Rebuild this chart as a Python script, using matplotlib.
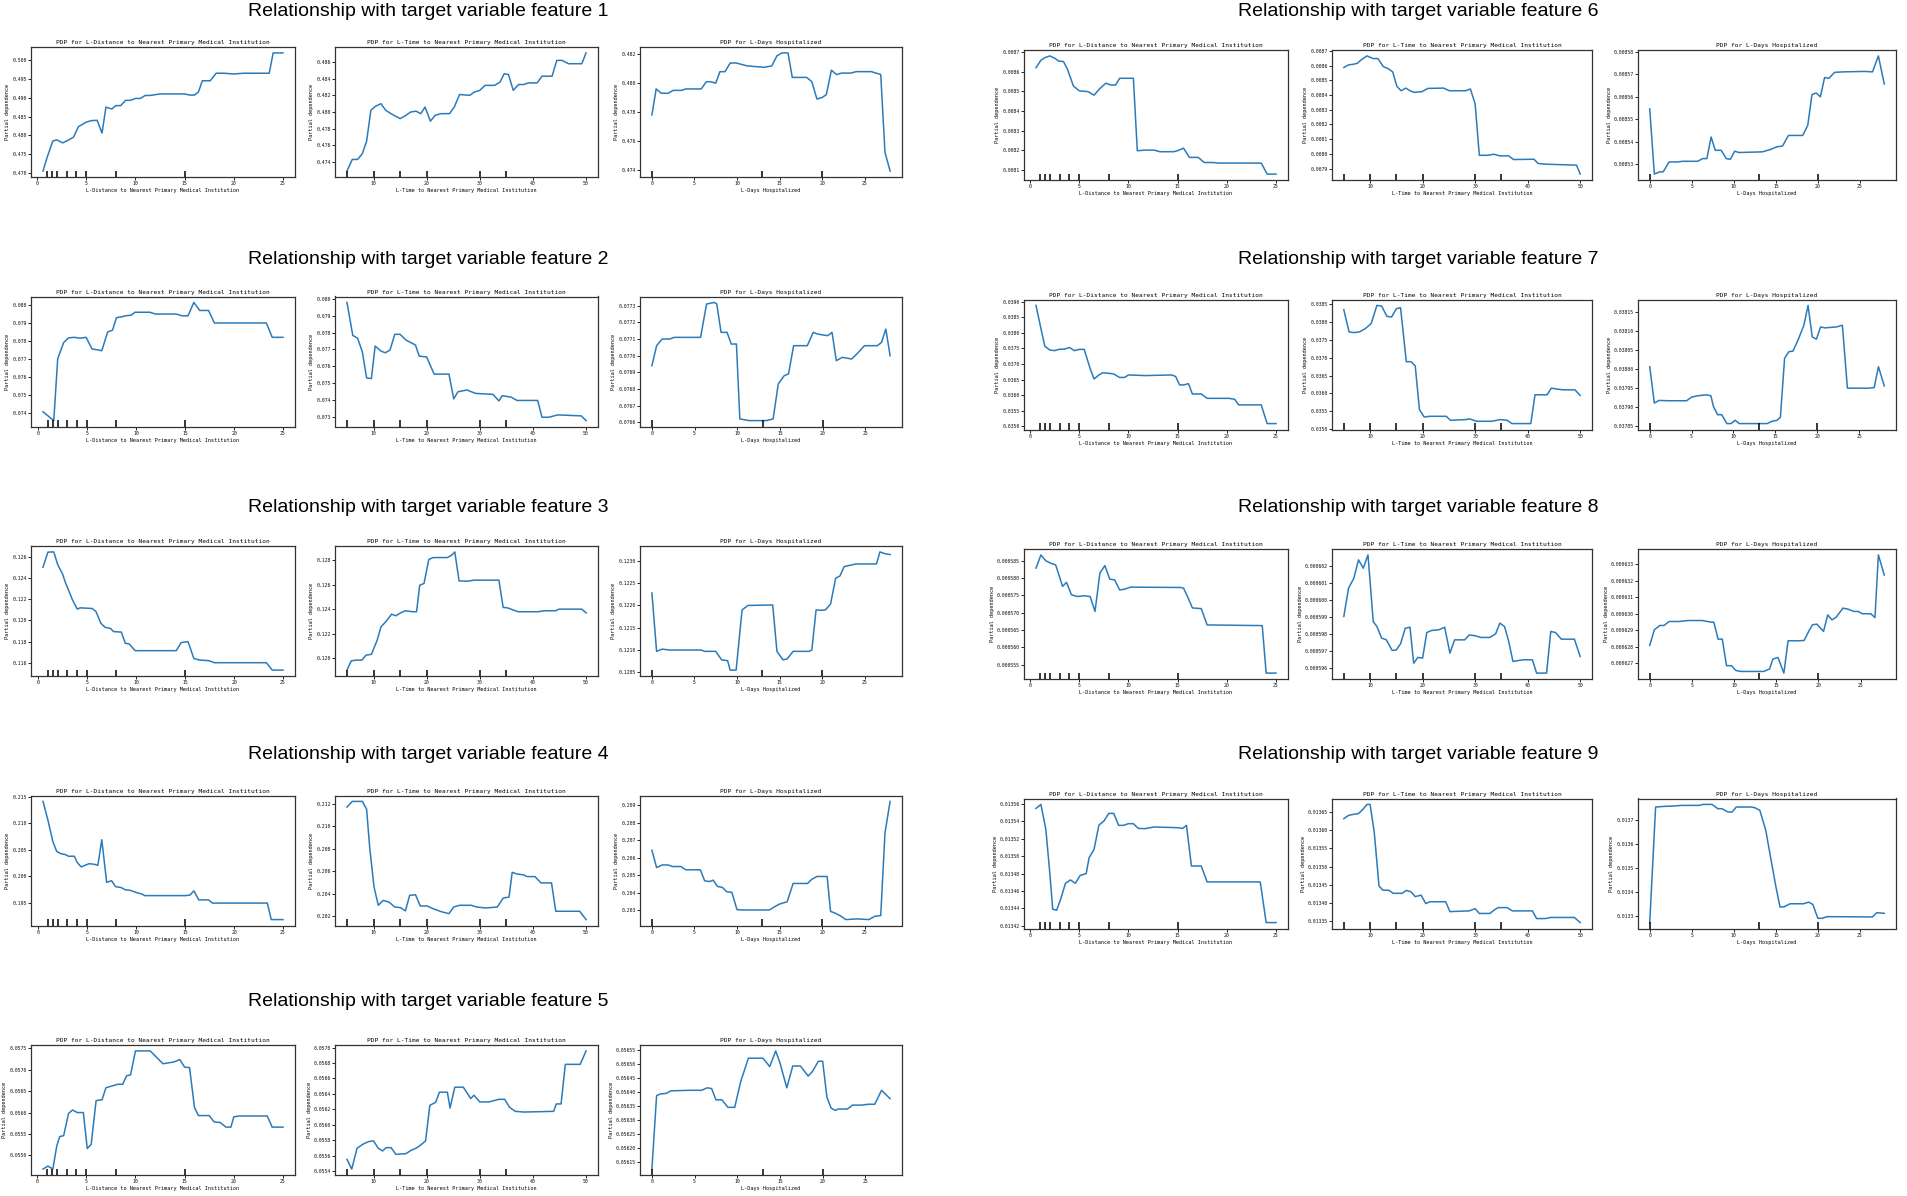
import matplotlib
matplotlib.use("Agg")
import matplotlib.pyplot as plt
from matplotlib.ticker import MultipleLocator, ScalarFormatter

# (grid value, partial dependence)
f1_dist = [(0.6, 0.4705), (1.0, 0.4740), (1.6, 0.4785), (2.0, 0.4788), (2.6, 0.4780), (3.0, 0.4785),
           (3.7, 0.4795), (4.2, 0.4823), (5.0, 0.4835), (5.5, 0.4839), (6.1, 0.4840), (6.6, 0.4806),
           (7.0, 0.4875), (7.6, 0.4870), (8.0, 0.4879), (8.5, 0.4879), (9.0, 0.4893), (9.5, 0.4893),
           (10.0, 0.4898), (10.5, 0.4898), (11.0, 0.4906), (11.5, 0.4906), (12.5, 0.4910), (15.0, 0.4910),
           (15.5, 0.4907), (16.0, 0.4907), (16.4, 0.4915), (16.8, 0.4945), (17.6, 0.4945), (18.2, 0.4965),
           (19.0, 0.4965), (20.0, 0.4963), (21.0, 0.4965), (23.6, 0.4965), (24.0, 0.5019), (25.0, 0.5019)]
f1_time = [(5.0, 0.4729), (6.0, 0.4743), (7.0, 0.4743), (7.9, 0.4750), (8.7, 0.4765), (9.5, 0.4802),
           (10.4, 0.4807), (11.4, 0.4810), (12.3, 0.4802), (13.3, 0.4798), (15.0, 0.4792), (16.1, 0.4796),
           (17.0, 0.4800), (18.0, 0.4801), (18.9, 0.4798), (19.7, 0.4806), (20.7, 0.4789), (21.6, 0.4796),
           (22.7, 0.4798), (24.3, 0.4798), (25.2, 0.4806), (26.2, 0.4821), (28.1, 0.4820), (29.0, 0.4824),
           (30.0, 0.4826), (31.0, 0.4832), (32.8, 0.4832), (33.8, 0.4836), (34.6, 0.4846), (35.4, 0.4845),
           (36.3, 0.4826), (37.3, 0.4833), (38.2, 0.4833), (39.2, 0.4835), (40.8, 0.4835), (41.7, 0.4843),
           (43.6, 0.4843), (44.5, 0.4862), (45.5, 0.4862), (46.7, 0.4858), (49.2, 0.4858), (50.0, 0.4871)]
f1_days = [(0.0, 0.4778), (0.5, 0.4796), (1.1, 0.4793), (1.9, 0.4793), (2.5, 0.4795), (3.5, 0.4795),
           (4.0, 0.4796), (5.8, 0.4796), (6.4, 0.4801), (6.9, 0.4801), (7.5, 0.4800), (8.0, 0.4808),
           (8.6, 0.4808), (9.2, 0.4814), (9.9, 0.4814), (11.2, 0.4812), (13.2, 0.4811), (14.1, 0.4812),
           (14.7, 0.4819), (15.3, 0.4821), (16.0, 0.4821), (16.5, 0.4804), (18.2, 0.4804), (18.8, 0.4801),
           (19.4, 0.4789), (20.0, 0.4790), (20.5, 0.4792), (21.1, 0.4809), (21.7, 0.4806), (22.3, 0.4807),
           (23.4, 0.4807), (24.0, 0.4808), (25.8, 0.4808), (26.9, 0.4806), (27.4, 0.4752), (28.0, 0.4739)]

f2_dist = [(0.5, 0.07404), (1.6, 0.07355), (2.0, 0.07700), (2.6, 0.07790), (3.1, 0.07817), (3.7, 0.07820),
           (4.3, 0.07815), (4.9, 0.07820), (5.5, 0.07755), (6.1, 0.07750), (6.5, 0.07745), (7.1, 0.07850),
           (7.6, 0.07860), (8.0, 0.07930), (8.6, 0.07935), (8.9, 0.07940), (9.5, 0.07944), (9.9, 0.07960),
           (11.4, 0.07960), (12.0, 0.07950), (14.1, 0.07950), (14.7, 0.07940), (15.3, 0.07940), (15.9, 0.08015),
           (16.5, 0.07970), (17.4, 0.07970), (18.0, 0.07900), (23.3, 0.07900), (23.9, 0.07820), (25.0, 0.07820)]
f2_time = [(5.0, 0.07980), (6.1, 0.07783), (7.0, 0.07767), (7.9, 0.07685), (8.7, 0.07530), (9.6, 0.07526),
           (10.3, 0.07720), (11.4, 0.07690), (12.2, 0.07680), (13.1, 0.07696), (14.0, 0.07790), (15.0, 0.07790),
           (16.1, 0.07756), (17.9, 0.07726), (18.6, 0.07660), (20.0, 0.07655), (21.4, 0.07553), (24.2, 0.07553),
           (25.1, 0.07405), (25.9, 0.07448), (27.6, 0.07458), (29.2, 0.07438), (32.5, 0.07432), (33.6, 0.07393),
           (34.2, 0.07424), (35.9, 0.07416), (37.0, 0.07396), (40.9, 0.07396), (41.7, 0.07296), (43.0, 0.07296),
           (44.7, 0.07310), (49.1, 0.07304), (50.0, 0.07276)]
f2_days = [(0.0, 0.07694), (0.55, 0.07706), (1.2, 0.07710), (2.1, 0.07710), (2.6, 0.07711), (5.7, 0.07711),
           (6.4, 0.07731), (7.3, 0.07732), (7.6, 0.07731), (8.1, 0.07714), (8.8, 0.07714), (9.3, 0.07707),
           (9.9, 0.07707), (10.3, 0.07662), (11.4, 0.07661), (13.4, 0.07661), (14.2, 0.07662), (14.8, 0.07683),
           (15.5, 0.07688), (16.0, 0.07689), (16.6, 0.07706), (18.2, 0.07706), (18.9, 0.07714), (19.4, 0.07713),
           (20.6, 0.07712), (21.1, 0.07714), (21.6, 0.07697), (22.3, 0.07699), (23.4, 0.07698), (24.0, 0.07701),
           (24.9, 0.07706), (26.4, 0.07706), (26.9, 0.07708), (27.4, 0.07716), (27.9, 0.07700)]

f3_dist = [(0.5, 0.12505), (1.0, 0.12648), (1.6, 0.12650), (2.0, 0.12530), (2.5, 0.12440), (2.8, 0.12356),
           (3.1, 0.12290), (3.5, 0.12197), (4.0, 0.12108), (4.3, 0.12120), (5.5, 0.12114), (5.9, 0.12086),
           (6.4, 0.11975), (6.8, 0.11937), (7.4, 0.11924), (7.7, 0.11895), (8.5, 0.11890), (8.9, 0.11784),
           (9.3, 0.11778), (9.9, 0.11714), (14.1, 0.11714), (14.6, 0.11790), (15.3, 0.11800), (15.9, 0.11640),
           (16.5, 0.11625), (17.4, 0.11620), (18.0, 0.11600), (23.3, 0.11600), (23.9, 0.11530), (25.0, 0.11530)]
f3_time = [(5.0, 0.11905), (5.8, 0.11980), (6.7, 0.11986), (7.8, 0.11986), (8.6, 0.12027), (9.6, 0.12033),
           (10.7, 0.12150), (11.4, 0.12257), (12.3, 0.12298), (13.4, 0.12360), (14.2, 0.12347), (15.1, 0.12371),
           (16.0, 0.12388), (17.3, 0.12380), (18.1, 0.12380), (18.7, 0.12596), (19.5, 0.12610), (20.4, 0.12805),
           (21.2, 0.12821), (23.9, 0.12821), (24.7, 0.12840), (25.3, 0.12867), (26.1, 0.12631), (27.8, 0.12629),
           (28.9, 0.12637), (33.6, 0.12637), (34.4, 0.12415), (35.2, 0.12412), (37.2, 0.12380), (41.0, 0.12380),
           (42.1, 0.12388), (44.3, 0.12388), (44.9, 0.12401), (49.2, 0.12401), (50.0, 0.12371)]
f3_days = [(0.0, 0.12228), (0.55, 0.12097), (1.2, 0.12102), (2.1, 0.12100), (5.8, 0.12100), (6.2, 0.12097),
           (7.5, 0.12097), (8.2, 0.12078), (8.9, 0.12076), (9.2, 0.12055), (9.9, 0.12055), (10.6, 0.12190),
           (11.3, 0.12200), (14.2, 0.12201), (14.7, 0.12097), (15.4, 0.12078), (15.9, 0.12080), (16.6, 0.12097),
           (18.5, 0.12097), (18.8, 0.12100), (19.3, 0.12190), (19.9, 0.12189), (20.4, 0.12190), (21.0, 0.12203),
           (21.6, 0.12261), (22.1, 0.12266), (22.6, 0.12287), (23.3, 0.12290), (24.0, 0.12293), (26.4, 0.12293),
           (26.8, 0.12320), (27.4, 0.12316), (28.0, 0.12314)]

f4_dist = [(0.5, 0.2141), (1.0, 0.2106), (1.5, 0.2066), (1.9, 0.2047), (2.3, 0.2043), (2.8, 0.2041),
           (3.1, 0.2038), (3.7, 0.2038), (4.0, 0.2026), (4.4, 0.2018), (4.8, 0.2021), (5.2, 0.2024),
           (5.7, 0.2023), (6.1, 0.2021), (6.5, 0.2069), (7.0, 0.1989), (7.5, 0.1992), (7.9, 0.1981),
           (8.5, 0.1979), (8.9, 0.1975), (9.4, 0.1974), (10.0, 0.1970), (10.6, 0.1967), (10.9, 0.1964),
           (15.0, 0.1964), (15.5, 0.1965), (15.9, 0.1973), (16.4, 0.1956), (17.4, 0.1956), (17.8, 0.1950),
           (23.4, 0.1950), (23.8, 0.1919), (25.0, 0.1919)]
f4_time = [(5.0, 0.2117), (6.0, 0.2122), (7.9, 0.2122), (8.7, 0.2115), (9.3, 0.2080), (10.1, 0.20458),
           (10.9, 0.20297), (11.8, 0.20340), (12.9, 0.20326), (14.0, 0.20282), (15.1, 0.20276), (16.0, 0.20247),
           (16.8, 0.20385), (17.9, 0.20391), (18.8, 0.20291), (20.1, 0.20291), (21.2, 0.20267), (22.9, 0.20238),
           (24.2, 0.20223), (25.1, 0.20282), (26.2, 0.20297), (28.4, 0.20297), (29.4, 0.20282), (31.1, 0.20273),
           (33.3, 0.20282), (34.4, 0.20361), (35.5, 0.20370), (36.1, 0.20590), (37.0, 0.20575), (38.3, 0.20567),
           (38.9, 0.20552), (40.4, 0.20552), (41.5, 0.20496), (43.5, 0.20496), (44.3, 0.20244), (48.8, 0.20244),
           (50.0, 0.20170)]
f4_days = [(0.0, 0.20642), (0.55, 0.20543), (1.2, 0.20558), (1.9, 0.20558), (2.4, 0.20549), (3.4, 0.20549),
           (4.0, 0.20530), (5.7, 0.20530), (6.2, 0.20467), (6.8, 0.20463), (7.2, 0.20471), (7.7, 0.20435),
           (8.3, 0.20429), (8.8, 0.20404), (9.4, 0.20401), (10.0, 0.20302), (10.7, 0.20300), (13.8, 0.20300),
           (14.3, 0.20315), (15.0, 0.20334), (15.9, 0.20347), (16.6, 0.20452), (18.3, 0.20452), (18.8, 0.20476),
           (19.4, 0.20492), (20.6, 0.20492), (21.0, 0.20292), (21.5, 0.20283), (22.1, 0.20268), (22.8, 0.20245),
           (24.1, 0.20249), (25.5, 0.20245), (26.2, 0.20264), (26.9, 0.20268), (27.4, 0.20742), (28.0, 0.20922)]

f5_dist = [(0.6, 0.05468), (1.1, 0.05475), (1.6, 0.05468), (2.0, 0.05522), (2.3, 0.05544), (2.7, 0.05546),
           (3.2, 0.05598), (3.6, 0.05606), (4.1, 0.05600), (4.7, 0.05600), (5.1, 0.05516), (5.5, 0.05526),
           (6.0, 0.05628), (6.6, 0.05630), (7.0, 0.05658), (7.6, 0.05662), (8.2, 0.05666), (8.7, 0.05666),
           (9.1, 0.05686), (9.5, 0.05688), (10.0, 0.05744), (11.5, 0.05744), (12.1, 0.05730), (12.8, 0.05714),
           (13.3, 0.05716), (13.9, 0.05718), (14.5, 0.05724), (15.0, 0.05706), (15.5, 0.05705), (16.0, 0.05612),
           (16.4, 0.05593), (17.5, 0.05593), (18.0, 0.05578), (18.6, 0.05577), (19.2, 0.05566), (19.7, 0.05566),
           (20.0, 0.05590), (20.5, 0.05592), (23.4, 0.05592), (23.9, 0.05566), (25.0, 0.05566)]
f5_time = [(5.0, 0.055552), (5.9, 0.055426), (6.9, 0.055696), (8.0, 0.055748), (9.1, 0.055783), (10.0, 0.055791),
           (10.9, 0.055696), (11.7, 0.055661), (12.4, 0.055704), (13.3, 0.055704), (14.2, 0.055617), (16.1, 0.055626),
           (17.2, 0.055674), (18.0, 0.055696), (18.9, 0.055739), (19.8, 0.055791), (20.6, 0.056252), (21.7, 0.056291),
           (22.4, 0.056422), (23.9, 0.056422), (24.4, 0.056217), (25.3, 0.056487), (26.9, 0.056487), (28.3, 0.056339),
           (28.9, 0.056383), (30.0, 0.056296), (31.7, 0.056296), (33.6, 0.056330), (34.7, 0.056330), (35.6, 0.056226),
           (36.7, 0.056174), (38.3, 0.056165), (43.9, 0.056174), (44.4, 0.056270), (45.3, 0.056270), (46.1, 0.056783),
           (48.9, 0.056783), (50.0, 0.056957)]
f5_days = [(0.0, 0.056125), (0.55, 0.056388), (1.0, 0.056394), (1.7, 0.056396), (2.2, 0.056405), (4.4, 0.056407),
           (5.8, 0.056407), (6.5, 0.056416), (7.0, 0.056413), (7.5, 0.056373), (8.2, 0.056373), (8.9, 0.056346),
           (9.7, 0.056346), (10.4, 0.056438), (11.3, 0.056522), (13.0, 0.056522), (13.8, 0.056492), (14.5, 0.056548),
           (15.0, 0.056505), (15.8, 0.056416), (16.5, 0.056494), (17.4, 0.056494), (18.3, 0.056458), (18.8, 0.056474),
           (19.5, 0.056511), (20.0, 0.056511), (20.5, 0.056382), (21.0, 0.056343), (21.5, 0.056335), (21.8, 0.056340),
           (22.9, 0.056340), (23.5, 0.056354), (24.6, 0.056354), (25.3, 0.056357), (26.1, 0.056357), (26.9, 0.056407),
           (27.9, 0.056377)]

f6_dist = [(0.6, 0.008620), (1.1, 0.008658), (1.5, 0.008671), (2.0, 0.008680), (2.5, 0.008668), (2.9, 0.008654),
           (3.4, 0.008651), (3.8, 0.008612), (4.4, 0.008527), (5.0, 0.008502), (5.9, 0.008498), (6.5, 0.008480),
           (7.1, 0.008514), (7.7, 0.008541), (8.2, 0.008532), (8.7, 0.008532), (9.1, 0.008566), (10.5, 0.008566),
           (10.9, 0.008197), (11.7, 0.008200), (12.6, 0.008200), (13.2, 0.008192), (14.6, 0.008192), (15.0, 0.008197),
           (15.6, 0.008210), (16.2, 0.008163), (17.1, 0.008163), (17.7, 0.008137), (18.6, 0.008137), (19.2, 0.008134),
           (23.5, 0.008134), (24.1, 0.008078), (25.0, 0.008078)]
f6_time = [(5.0, 0.008587), (5.9, 0.008605), (6.8, 0.008609), (7.6, 0.008616), (8.3, 0.008639), (9.4, 0.008666),
           (10.6, 0.008648), (11.5, 0.008648), (12.5, 0.008594), (13.4, 0.008580), (14.3, 0.008558), (15.1, 0.008459),
           (15.9, 0.008429), (16.8, 0.008447), (17.6, 0.008429), (18.4, 0.008418), (19.9, 0.008423), (21.0, 0.008445),
           (24.0, 0.008447), (25.1, 0.008429), (28.2, 0.008429), (29.1, 0.008441), (30.0, 0.008339), (30.8, 0.007990),
           (32.4, 0.007990), (33.6, 0.007997), (34.7, 0.007986), (36.4, 0.007986), (37.3, 0.007961), (41.2, 0.007963),
           (42.0, 0.007934), (43.7, 0.007929), (49.3, 0.007923), (50.0, 0.007862)]
f6_days = [(0.0, 0.0085546), (0.55, 0.0085256), (1.2, 0.0085266), (1.6, 0.0085266), (2.3, 0.0085310),
           (3.3, 0.0085310), (3.9, 0.0085313), (5.7, 0.0085313), (6.3, 0.0085325), (6.8, 0.0085325),
           (7.3, 0.0085421), (7.8, 0.0085362), (8.5, 0.0085362), (9.1, 0.0085325), (9.6, 0.0085322),
           (10.1, 0.0085358), (10.6, 0.0085352), (13.4, 0.0085355), (14.4, 0.0085366), (15.1, 0.0085377),
           (15.8, 0.0085381), (16.5, 0.0085428), (18.2, 0.0085428), (18.8, 0.0085473), (19.3, 0.0085610),
           (19.8, 0.0085617), (20.3, 0.0085600), (20.8, 0.0085686), (21.3, 0.0085682), (22.0, 0.0085709),
           (23.1, 0.0085711), (25.5, 0.0085713), (26.5, 0.0085711), (27.2, 0.0085782), (27.9, 0.0085657)]

f7_dist = [(0.6, 0.03888), (1.1, 0.03814), (1.5, 0.03757), (2.0, 0.03745), (2.5, 0.03743), (2.9, 0.03747),
           (3.5, 0.03748), (4.0, 0.03753), (4.5, 0.03743), (5.0, 0.03747), (5.5, 0.03747), (6.1, 0.03686),
           (6.5, 0.03652), (7.0, 0.03665), (7.4, 0.03672), (8.1, 0.03670), (8.5, 0.03668), (9.1, 0.03657),
           (9.6, 0.03657), (10.0, 0.03665), (11.7, 0.03663), (14.4, 0.03665), (14.8, 0.03660), (15.2, 0.03633),
           (15.6, 0.03633), (16.1, 0.03637), (16.5, 0.03604), (17.4, 0.03604), (18.0, 0.03590), (20.2, 0.03590),
           (20.8, 0.03587), (21.2, 0.03569), (23.5, 0.03569), (24.1, 0.03509), (25.0, 0.03509)]
f7_time = [(5.0, 0.038352), (6.0, 0.037728), (6.9, 0.037709), (8.0, 0.037728), (9.1, 0.037821), (10.2, 0.037961),
           (11.3, 0.038473), (12.2, 0.038454), (13.2, 0.038166), (14.1, 0.038147), (15.0, 0.038380), (15.8, 0.038408),
           (16.9, 0.036890), (17.8, 0.036890), (18.6, 0.036769), (19.4, 0.035540), (20.3, 0.035335), (21.4, 0.035354),
           (24.5, 0.035354), (25.3, 0.035242), (28.1, 0.035261), (29.0, 0.035279), (30.3, 0.035214), (33.1, 0.035214),
           (34.8, 0.035261), (36.1, 0.035242), (37.0, 0.035149), (40.6, 0.035149), (41.4, 0.035959), (43.7, 0.035959),
           (44.5, 0.036145), (45.7, 0.036117), (46.8, 0.036099), (49.0, 0.036099), (50.0, 0.035940)]
f7_days = [(0.0, 0.0380065), (0.55, 0.0379109), (1.1, 0.0379178), (2.3, 0.0379170), (4.4, 0.0379170),
           (5.0, 0.0379265), (5.7, 0.0379300), (6.8, 0.0379326), (7.3, 0.0379300), (7.6, 0.0379022),
           (8.1, 0.0378804), (8.6, 0.0378804), (9.2, 0.0378570), (9.7, 0.0378570), (10.2, 0.0378657),
           (10.7, 0.0378570), (14.0, 0.0378570), (14.6, 0.0378630), (15.2, 0.0378657), (15.6, 0.0378735),
           (16.1, 0.0380283), (16.6, 0.0380457), (17.1, 0.0380474), (17.7, 0.0380761), (18.4, 0.0381152),
           (18.9, 0.0381674), (19.4, 0.0380848), (19.9, 0.0380787), (20.4, 0.0381109), (20.9, 0.0381083),
           (22.3, 0.0381109), (23.0, 0.0381152), (23.6, 0.0379500), (26.1, 0.0379500), (26.8, 0.0379517),
           (27.3, 0.0380065), (28.0, 0.0379561)]

f8_dist = [(0.6, 0.0005829), (1.1, 0.0005867), (1.6, 0.0005850), (2.1, 0.0005843), (2.6, 0.0005838),
           (3.0, 0.0005803), (3.3, 0.0005776), (3.7, 0.0005788), (4.2, 0.0005752), (4.8, 0.0005747),
           (5.5, 0.0005749), (6.1, 0.0005747), (6.6, 0.0005704), (7.1, 0.0005815), (7.6, 0.0005836),
           (8.1, 0.0005797), (8.6, 0.0005795), (9.1, 0.0005766), (9.6, 0.0005768), (10.2, 0.0005774),
           (15.3, 0.0005773), (15.6, 0.0005771), (16.0, 0.0005747), (16.5, 0.0005714), (17.4, 0.0005712),
           (18.0, 0.0005665), (23.6, 0.0005663), (24.0, 0.0005526), (25.0, 0.0005526)]
f8_time = [(5.0, 0.00059903), (5.9, 0.00060069), (6.9, 0.00060127), (7.8, 0.00060235), (8.7, 0.00060186),
           (9.6, 0.00060264), (10.6, 0.00059873), (11.3, 0.00059844), (12.2, 0.00059776), (13.1, 0.00059766),
           (14.2, 0.00059704), (15.0, 0.00059707), (15.8, 0.00059743), (16.7, 0.00059834), (17.6, 0.00059840),
           (18.3, 0.00059629), (19.1, 0.00059663), (20.0, 0.00059659), (20.8, 0.00059809), (21.7, 0.00059821),
           (23.1, 0.00059825), (24.2, 0.00059840), (25.2, 0.00059688), (26.1, 0.00059766), (28.0, 0.00059766),
           (28.9, 0.00059795), (30.0, 0.00059790), (31.1, 0.00059780), (32.8, 0.00059780), (33.9, 0.00059801),
           (34.7, 0.00059864), (35.6, 0.00059844), (36.4, 0.00059756), (37.2, 0.00059639), (38.3, 0.00059645),
           (39.2, 0.00059649), (40.9, 0.00059649), (41.7, 0.00059571), (43.6, 0.00059571), (44.4, 0.00059815),
           (45.3, 0.00059809), (46.4, 0.00059770), (48.9, 0.00059770), (50.0, 0.00059668)]
f8_days = [(0.0, 0.00062808), (0.55, 0.00062903), (1.2, 0.00062929), (1.7, 0.00062929), (2.3, 0.00062953),
           (3.5, 0.00062953), (4.5, 0.00062959), (6.2, 0.00062959), (7.3, 0.00062949), (7.6, 0.00062949),
           (8.1, 0.00062846), (8.6, 0.00062846), (9.1, 0.00062685), (9.7, 0.00062685), (10.2, 0.00062656),
           (10.8, 0.00062650), (13.5, 0.00062650), (14.2, 0.00062665), (14.6, 0.00062725), (15.2, 0.00062735),
           (15.9, 0.00062640), (16.4, 0.00062836), (17.6, 0.00062836), (18.3, 0.00062838), (18.9, 0.00062899),
           (19.3, 0.00062933), (19.8, 0.00062937), (20.6, 0.00062893), (21.1, 0.00062993), (21.6, 0.00062963),
           (22.1, 0.00062979), (22.9, 0.00063034), (23.5, 0.00063028), (24.2, 0.00063014), (24.7, 0.00063014),
           (25.2, 0.00063000), (26.2, 0.00063000), (26.7, 0.00062977), (27.1, 0.00063357), (27.8, 0.00063235)]

f9_dist = [(0.6, 0.0135547), (1.1, 0.0135593), (1.6, 0.0135307), (2.0, 0.0134811), (2.3, 0.0134391),
           (2.7, 0.0134379), (3.1, 0.0134505), (3.6, 0.0134689), (4.1, 0.0134727), (4.6, 0.0134689),
           (5.1, 0.0134780), (5.7, 0.0134799), (6.0, 0.0134982), (6.5, 0.0135078), (7.0, 0.0135356),
           (7.5, 0.0135402), (8.0, 0.0135490), (8.5, 0.0135490), (9.0, 0.0135353), (9.5, 0.0135353),
           (10.0, 0.0135372), (10.5, 0.0135372), (11.0, 0.0135318), (11.7, 0.0135315), (12.6, 0.0135334),
           (15.0, 0.0135326), (15.5, 0.0135318), (15.9, 0.0135353), (16.4, 0.0134887), (17.4, 0.0134887),
           (18.0, 0.0134704), (23.4, 0.0134704), (24.0, 0.0134238), (25.0, 0.0134238)]
f9_time = [(5.0, 0.013631), (5.9, 0.013640), (6.9, 0.013643), (7.8, 0.013645), (8.6, 0.013656), (9.4, 0.013670),
           (10.0, 0.013670), (10.8, 0.013593), (11.7, 0.013447), (12.4, 0.013436), (13.6, 0.013435), (14.4, 0.013427),
           (16.1, 0.013427), (16.9, 0.013435), (17.8, 0.013431), (18.6, 0.013418), (19.7, 0.013422), (20.6, 0.013399),
           (21.4, 0.013404), (24.4, 0.013404), (25.2, 0.013377), (28.9, 0.013379), (30.0, 0.013385), (30.8, 0.013372),
           (32.8, 0.013372), (33.7, 0.013382), (34.4, 0.013388), (36.1, 0.013388), (37.1, 0.013379), (40.9, 0.013379),
           (41.7, 0.013358), (43.3, 0.013358), (44.4, 0.013361), (48.9, 0.013361), (50.0, 0.013347)]
f9_days = [(0.0, 0.0132726), (0.7, 0.0137521), (1.7, 0.0137548), (2.8, 0.0137562), (3.8, 0.0137589),
           (5.9, 0.0137589), (6.3, 0.0137630), (7.4, 0.0137630), (8.1, 0.0137452), (8.6, 0.0137452),
           (9.3, 0.0137315), (9.8, 0.0137315), (10.3, 0.0137521), (12.1, 0.0137521), (12.5, 0.0137493),
           (13.1, 0.0137384), (13.8, 0.0136562), (14.5, 0.0135192), (15.0, 0.0134233), (15.5, 0.0133370),
           (16.0, 0.0133384), (16.7, 0.0133507), (18.3, 0.0133507), (18.9, 0.0133575), (19.4, 0.0133479),
           (20.0, 0.0132904), (20.5, 0.0132904), (21.1, 0.0132973), (26.5, 0.0132960), (27.0, 0.0133137),
           (27.9, 0.0133110)]

# rug marks (deciles of each feature)
dist_deciles = [1, 1.5, 2, 3, 4, 5, 8, 15]
time_deciles = [5, 10, 15, 20, 30, 35]
days_deciles = [0, 13, 20]

feature_names = ["L-Distance to Nearest Primary Medical Institution",
                 "L-Time to Nearest Primary Medical Institution",
                 "L-Days Hospitalized"]

all_curves = [
    (f1_dist, f1_time, f1_days), (f2_dist, f2_time, f2_days), (f3_dist, f3_time, f3_days),
    (f4_dist, f4_time, f4_days), (f5_dist, f5_time, f5_days), (f6_dist, f6_time, f6_days),
    (f7_dist, f7_time, f7_days), (f8_dist, f8_time, f8_days), (f9_dist, f9_time, f9_days),
]

# y tick spacing per panel
y_steps = [
    (0.005, 0.002, 0.002), (0.001, 0.001, 0.0001), (0.002, 0.002, 0.0005),
    (0.005, 0.002, 0.001), (0.0005, 0.0002, 0.00005), (0.0001, 0.0001, 0.00001),
    (0.0005, 0.0005, 0.00005), (0.000005, 0.000001, 0.000001), (0.00002, 0.00005, 0.0001),
]
x_steps = [5, 10, 5]
deciles = [dist_deciles, time_deciles, days_deciles]

W, H = 1908, 1196
plt.rcParams['font.family'] = ['DejaVu Sans Mono']

fig = plt.figure(figsize=(W / 100, H / 100), dpi=100)

# panel x extents in pixels for the left and right column
col_x = [[(31, 295), (335, 598), (640, 902)],
         [(1024, 1288), (1332, 1592), (1638, 1896)]]
title_cx = [428, 1418]


def px_axes(x0, x1, y0, y1):
    return fig.add_axes([x0 / W, 1 - y1 / H, (x1 - x0) / W, (y1 - y0) / H])


for k, curves in enumerate(all_curves):
    col = k // 5
    row = k % 5
    top = 47 + 249.5 * row + 3 * col
    fig.text(title_cx[col] / W, 1 - (12 + 247.5 * row) / H,
             f"Relationship with target variable feature {k + 1}",
             ha='center', va='center', fontsize=14, family='Liberation Sans')

    for j, pts in enumerate(curves):
        x0, x1 = col_x[col][j]
        ax = px_axes(x0, x1, top, top + 130)
        xs = [p[0] for p in pts]
        ys = [p[1] for p in pts]
        ax.plot(xs, ys, color='#2b7bba', lw=1.1)
        ax.vlines(deciles[j], 0, 0.05, transform=ax.get_xaxis_transform(), color='k', lw=1.1)

        lo, hi = min(ys), max(ys)
        span = hi - lo
        ax.set_ylim(lo - 0.05 * span, hi + 0.05 * span)
        xspan = max(xs) - min(xs)
        ax.set_xlim(min(xs) - 0.05 * xspan, max(xs) + 0.05 * xspan)

        ax.xaxis.set_major_locator(MultipleLocator(x_steps[j]))
        ax.yaxis.set_major_locator(MultipleLocator(y_steps[k][j]))
        fmt = ScalarFormatter(useOffset=False)
        fmt.set_scientific(False)
        ax.yaxis.set_major_formatter(fmt)

        ax.tick_params(labelsize=3.5, length=2, width=0.6, pad=1, labelcolor='#111111')
        for s in ax.spines.values():
            s.set_linewidth(0.9)
            s.set_color('#333333')

        ax.set_title(f"PDP for {feature_names[j]}", fontsize=4.4, pad=2)
        ax.set_xlabel(feature_names[j], fontsize=3.7, labelpad=1.5)
        ax.set_ylabel("Partial dependence", fontsize=3.7, labelpad=1.5)

fig.savefig("out.png", dpi=100, facecolor='white')
